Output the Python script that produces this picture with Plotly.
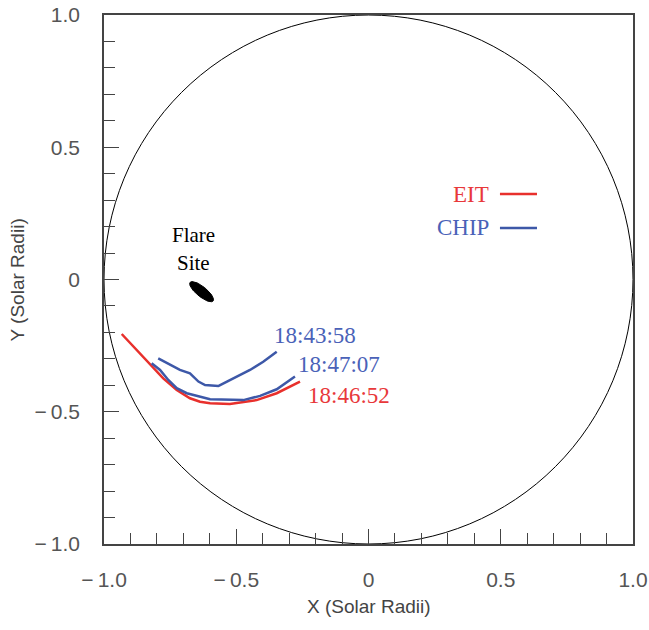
import numpy as np
import plotly.graph_objects as go

# ---- data (solar radii) ----
eit_x = [-0.933, -0.876, -0.814, -0.776, -0.725, -0.675, -0.637, -0.599, -0.524, -0.423, -0.347, -0.259]
eit_y = [-0.206, -0.267, -0.330, -0.374, -0.418, -0.449, -0.462, -0.468, -0.471, -0.456, -0.430, -0.386]

chip2_x = [-0.820, -0.788, -0.757, -0.725, -0.687, -0.637, -0.599, -0.473, -0.410, -0.347, -0.278]
chip2_y = [-0.317, -0.342, -0.380, -0.411, -0.430, -0.443, -0.453, -0.456, -0.440, -0.415, -0.367]

chip1_x = [-0.795, -0.757, -0.713, -0.675, -0.643, -0.618, -0.568, -0.561, -0.511, -0.448, -0.398, -0.347]
chip1_y = [-0.298, -0.317, -0.342, -0.355, -0.386, -0.399, -0.403, -0.399, -0.374, -0.342, -0.311, -0.273]

time_labels = ["18:43:58", "18:47:07", "18:46:52"]
time_label_x = [-0.202, -0.110, -0.073]
time_label_y = [-0.210, -0.321, -0.440]

flare_center = (-0.631, -0.046)
flare_axes = (0.056, 0.019)   # semi-major, semi-minor
flare_angle_deg = -39

tick_vals = [-1.0, -0.5, 0.0, 0.5, 1.0]
tick_text = ["\u2212\u20091.0", "\u2212\u20090.5", "0", "0.5", "1.0"]

RED = "#e8302c"
BLUE = "#3d58a8"
RED_TXT = "#e8383a"
BLUE_TXT = "#4a62b8"
SERIF = "Liberation Serif, Times New Roman, serif"
SANS = "Liberation Sans, Arial, sans-serif"

fig = go.Figure()

# solar limb
fig.add_shape(type="circle", xref="x", yref="y", x0=-1, y0=-1, x1=1, y1=1,
              line=dict(color="black", width=1), layer="below")

# flare site ellipse
t = np.linspace(0, 2 * np.pi, 60)
a, b = flare_axes
th = np.deg2rad(flare_angle_deg)
ex = flare_center[0] + a * np.cos(t) * np.cos(th) - b * np.sin(t) * np.sin(th)
ey = flare_center[1] + a * np.cos(t) * np.sin(th) + b * np.sin(t) * np.cos(th)
fig.add_trace(go.Scatter(x=ex, y=ey, fill="toself", fillcolor="black",
                         line=dict(color="black", width=1), mode="lines",
                         showlegend=False, hoverinfo="skip"))

fig.add_trace(go.Scatter(x=eit_x, y=eit_y, mode="lines", line=dict(color=RED, width=2.5),
                         showlegend=False))
fig.add_trace(go.Scatter(x=chip2_x, y=chip2_y, mode="lines", line=dict(color=BLUE, width=2.5),
                         showlegend=False))
fig.add_trace(go.Scatter(x=chip1_x, y=chip1_y, mode="lines", line=dict(color=BLUE, width=2.5),
                         showlegend=False))

label_colors = [BLUE_TXT, BLUE_TXT, RED_TXT]
for txt, lx, ly, c in zip(time_labels, time_label_x, time_label_y, label_colors):
    fig.add_annotation(x=lx, y=ly, text=txt, showarrow=False, xanchor="center", yanchor="middle",
                       font=dict(family=SERIF, size=23, color=c))

fig.add_annotation(x=flare_center[0] - 0.031, y=0.168, text="Flare", showarrow=False,
                   font=dict(family=SERIF, size=21, color="black"))
fig.add_annotation(x=flare_center[0] - 0.031, y=0.061, text="Site", showarrow=False,
                   font=dict(family=SERIF, size=21, color="black"))

# legend (text left of line)
legend_items = [("EIT", RED, RED_TXT, 0.323), ("CHIP", BLUE, BLUE_TXT, 0.195)]
for name, lc, tc, ly in legend_items:
    fig.add_annotation(x=0.462, y=ly, text=name, showarrow=False, xanchor="right", yanchor="middle",
                       font=dict(family=SERIF, size=23, color=tc))
    fig.add_shape(type="line", xref="x", yref="y", x0=0.497, x1=0.637, y0=ly, y1=ly,
                  line=dict(color=lc, width=2.5))

# axis titles
fig.add_annotation(xref="paper", yref="paper", x=0.5, y=-0.119, text="X (Solar Radii)",
                   showarrow=False, xanchor="center", yanchor="middle",
                   font=dict(family=SANS, size=19, color="#444"))
fig.add_annotation(xref="paper", yref="paper", x=-0.1626, y=0.5, text="Y (Solar Radii)",
                   showarrow=False, xanchor="center", yanchor="middle", textangle=-90,
                   font=dict(family=SANS, size=19, color="#444"))

axis_common = dict(range=[-1, 1], tickvals=tick_vals, ticktext=tick_text,
                   ticks="inside", ticklen=15, tickwidth=1.2, tickcolor="#444",
                   showline=True, linecolor="#444", linewidth=1.5, mirror=True,
                   showgrid=False, zeroline=False, automargin=False,
                   minor=dict(dtick=0.1, ticks="inside", ticklen=11, tickwidth=1.2,
                              tickcolor="#444", showgrid=False),
                   tickfont=dict(family=SANS, size=21, color="#555"))

fig.update_layout(
    width=649, height=630,
    margin=dict(l=104, r=16, t=15, b=86, autoexpand=False),
    paper_bgcolor="white", plot_bgcolor="white",
    showlegend=False,
    xaxis=dict(**axis_common, ticklabelstandoff=16),
    yaxis=dict(**axis_common, ticklabelstandoff=18),
)

fig.write_html("out.html")
